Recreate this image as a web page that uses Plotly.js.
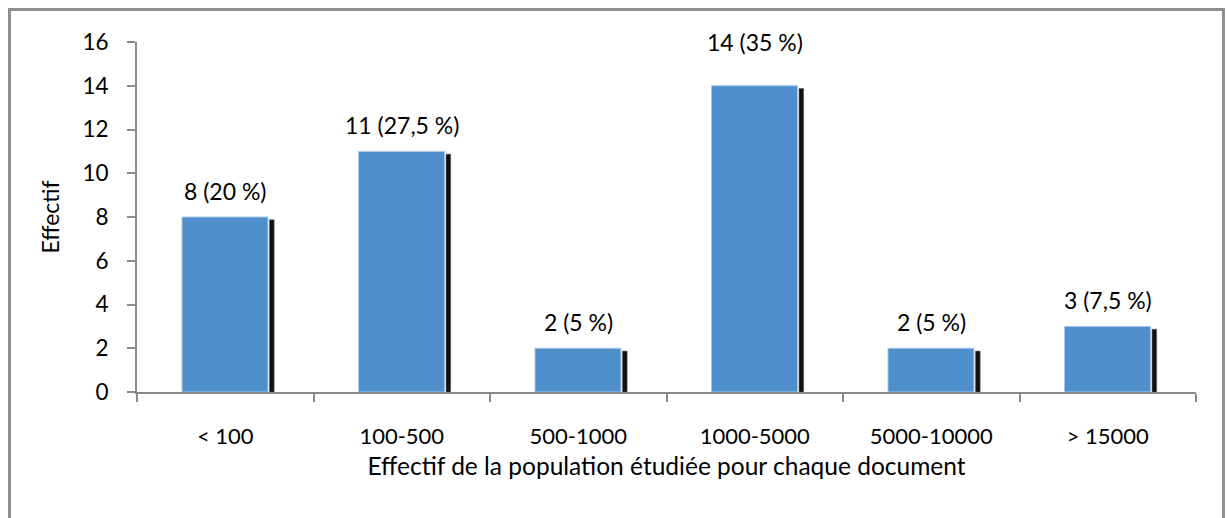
<!DOCTYPE html>
<html>
<head>
<meta charset="utf-8">
<script src="https://cdn.plot.ly/plotly-3.0.1.min.js"></script>
<style>
html,body{margin:0;padding:0;background:#fff;}
#wrap{position:relative;width:1227px;height:518px;overflow:hidden;}
#chart{position:absolute;left:0;top:0;width:1227px;height:518px;}
#frame{position:absolute;left:8px;top:8px;width:1217px;height:530px;border:3px solid #8e8e8e;box-sizing:border-box;pointer-events:none;}
</style>
</head>
<body>
<div id="wrap">
<div id="chart"></div>
<div id="frame"></div>
</div>
<script>
const categories = ["< 100", "100-500", "500-1000", "1000-5000", "5000-10000", "> 15000"];
const counts = [8, 11, 2, 14, 2, 3];
const barLabels = ["8 (20 %)", "11 (27,5 %)", "2 (5 %)", "14 (35 %)", "2 (5 %)", "3 (7,5 %)"];
const yTicks = [0, 2, 4, 6, 8, 10, 12, 14, 16];

const FONT = "Lato, 'Open Sans', sans-serif";
// label gap above each bar (px), the tallest label sits higher as in the original
const labelGap = [26, 26, 26, 44, 26, 26];

const shadow = {
  type: "bar",
  x: categories,
  y: counts.map(v => v - 0.13),
  width: 0.026,
  offset: 0.251,
  marker: {color: "#111111", line: {color: "rgba(90,90,90,0.6)", width: 1}},
  hoverinfo: "skip",
  showlegend: false
};

const bars = {
  type: "bar",
  x: categories,
  y: counts,
  width: 0.487,
  offset: -0.245,
  marker: {color: "#4f8fcc", line: {color: "#a9c6e8", width: 1}},
  showlegend: false
};

const annotations = categories.map((c, i) => ({
  x: c, y: counts[i], xref: "x", yref: "y",
  text: barLabels[i], showarrow: false,
  yanchor: "middle", yshift: labelGap[i],
  font: {family: FONT, size: 23, color: "#000"}
}));

const layout = {
  width: 1227, height: 518,
  margin: {l: 137, r: 31, t: 42, b: 126},
  paper_bgcolor: "rgba(0,0,0,0)",
  plot_bgcolor: "rgba(0,0,0,0)",
  barmode: "overlay",
  font: {family: FONT, size: 22, color: "#000"},
  xaxis: {
    type: "category",
    range: [-0.5, 5.5],
    showgrid: false, zeroline: false,
    showline: true, linecolor: "#8a8a8a", linewidth: 2,
    ticks: "outside", tickson: "boundaries", ticklen: 8, tickwidth: 2, tickcolor: "#8a8a8a",
    ticklabelstandoff: 24,
    tickfont: {family: FONT, size: 22, color: "#000"},
    title: {text: "Effectif de la population étudiée pour chaque document", font: {family: FONT, size: 24.5, color: "#000"}, standoff: 9}
  },
  yaxis: {
    range: [0, 16],
    tickvals: yTicks,
    ticktext: yTicks.map(String),
    showgrid: false, zeroline: false,
    showline: true, linecolor: "#8a8a8a", linewidth: 2,
    ticks: "outside", ticklen: 8, tickwidth: 2, tickcolor: "#8a8a8a",
    ticklabelstandoff: 14,
    tickfont: {family: FONT, size: 22.5, color: "#000"},
    title: {text: "Effectif", font: {family: FONT, size: 23, color: "#000"}, standoff: 16}
  },
  annotations: annotations
};

Plotly.newPlot("chart", [shadow, bars], layout, {displayModeBar: false, staticPlot: true});
</script>
</body>
</html>
